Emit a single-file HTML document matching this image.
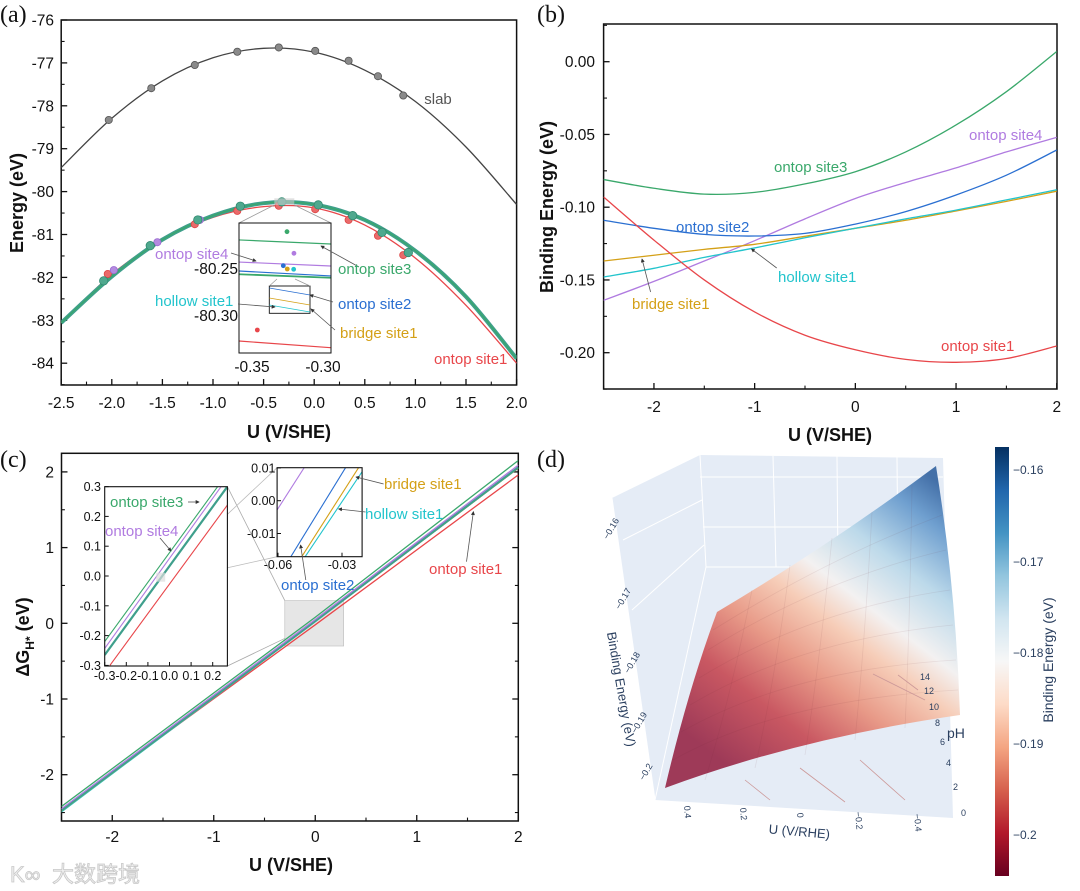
<!DOCTYPE html>
<html><head><meta charset="utf-8"><style>
html,body{margin:0;padding:0;background:#fff}
svg{display:block}
text{font-family:"Liberation Sans","Noto Sans CJK SC",sans-serif}
.tk{font-size:15.5px;fill:#111}
.ttl{font-size:18px;font-weight:bold;fill:#111}
.pl{font-family:"Liberation Serif",serif;font-size:24px;fill:#111}
.lb{font-size:15px}
.it{font-size:12.5px;fill:#111}
.d3{font-size:9px;fill:#2a3f5f}
</style></head><body>
<svg id="fig" width="1080" height="891" viewBox="0 0 1080 891" xmlns="http://www.w3.org/2000/svg">
<defs>
<clipPath id="clipA"><rect x="61.2" y="20" width="455.4" height="365"/></clipPath>
<clipPath id="clipAI"><rect x="239" y="223" width="92" height="130"/></clipPath>
<clipPath id="clipB"><rect x="603.6" y="24" width="453.4" height="365"/></clipPath>
<clipPath id="clipC"><rect x="61.5" y="453.3" width="456.8" height="367.7"/></clipPath>
<clipPath id="clipC1"><rect x="104.7" y="486.7" width="122.7" height="179.3"/></clipPath>
<clipPath id="clipC2"><rect x="277.1" y="467.7" width="85" height="89"/></clipPath>
<linearGradient id="surfGrad" gradientUnits="userSpaceOnUse" x1="720" y1="760" x2="935" y2="480">
<stop offset="0" stop-color="#9e3a58"/><stop offset="0.2" stop-color="#c95862"/><stop offset="0.36" stop-color="#e89a88"/><stop offset="0.5" stop-color="#f6cdb8"/><stop offset="0.6" stop-color="#f3f1f1"/><stop offset="0.75" stop-color="#bcd9ea"/><stop offset="0.9" stop-color="#6f9fcf"/><stop offset="1" stop-color="#4470a8"/>
</linearGradient>
<linearGradient id="cbGrad" x1="0" y1="1" x2="0" y2="0">
<stop offset="0" stop-color="#67001f"/><stop offset="0.1" stop-color="#b2182b"/><stop offset="0.2" stop-color="#d6604d"/><stop offset="0.3" stop-color="#f4a582"/><stop offset="0.4" stop-color="#fddbc7"/><stop offset="0.5" stop-color="#f7f7f7"/><stop offset="0.6" stop-color="#d1e5f0"/><stop offset="0.7" stop-color="#92c5de"/><stop offset="0.8" stop-color="#4393c3"/><stop offset="0.9" stop-color="#2166ac"/><stop offset="1" stop-color="#053061"/>
</linearGradient>
<marker id="arr" viewBox="0 0 6 6" refX="5" refY="3" markerWidth="5" markerHeight="5" orient="auto"><path d="M0,0 L6,3 L0,6 Z" fill="#333"/></marker>
</defs>
<rect x="0" y="0" width="1080" height="891" fill="#fff"/>

<text class="pl" x="0" y="22">(a)</text>
<text class="pl" x="537" y="22">(b)</text>
<text class="pl" x="0" y="467">(c)</text>
<text class="pl" x="537" y="467">(d)</text>

<g id="gA"></g>
<text class="ttl" x="289" y="438" text-anchor="middle">U (V/SHE)</text>
<text class="ttl" transform="translate(23,203) rotate(-90)" text-anchor="middle">Energy (eV)</text>
<text class="lb" x="438" y="104" text-anchor="middle" fill="#555">slab</text>
<text class="lb" x="155" y="259" fill="#b07be0">ontop site4</text>
<text class="lb" x="338" y="274" fill="#3aa86b">ontop site3</text>
<text class="lb" x="155" y="306" fill="#22c4cc">hollow site1</text>
<text class="lb" x="338" y="309" fill="#2a6fd1">ontop site2</text>
<text class="lb" x="340" y="338" fill="#d4a017">bridge site1</text>
<text class="lb" x="434" y="364" fill="#e8464a">ontop site1</text>
<text class="tk" x="238" y="274" text-anchor="end">-80.25</text>
<text class="tk" x="238" y="321" text-anchor="end">-80.30</text>
<text class="tk" x="252" y="372" text-anchor="middle">-0.35</text>
<text class="tk" x="323" y="372" text-anchor="middle">-0.30</text>

<g id="gB"></g>
<text class="ttl" x="830" y="441" text-anchor="middle">U (V/SHE)</text>
<text class="ttl" transform="translate(553,207) rotate(-90)" text-anchor="middle">Binding Energy (eV)</text>
<text class="lb" x="774" y="172" fill="#3aa86b">ontop site3</text>
<text class="lb" x="969" y="140" fill="#b07be0">ontop site4</text>
<text class="lb" x="676" y="232" fill="#2a6fd1">ontop site2</text>
<text class="lb" x="778" y="282" fill="#22c4cc">hollow site1</text>
<text class="lb" x="632" y="309" fill="#d4a017">bridge site1</text>
<text class="lb" x="941" y="351" fill="#e8464a">ontop site1</text>

<g id="gC"></g>
<text class="ttl" x="291" y="871" text-anchor="middle">U (V/SHE)</text>
<text class="ttl" transform="translate(29,637) rotate(-90)" text-anchor="middle">ΔG<tspan font-size="12" dy="5">H*</tspan><tspan dy="-5"> (eV)</tspan></text>
<text class="lb" x="110" y="507" fill="#3aa86b">ontop site3</text>
<text class="lb" x="105" y="536" fill="#b07be0">ontop site4</text>
<text class="lb" x="384" y="489" fill="#d4a017">bridge site1</text>
<text class="lb" x="365" y="519" fill="#22c4cc">hollow site1</text>
<text class="lb" x="281" y="590" fill="#2a6fd1">ontop site2</text>
<text class="lb" x="429" y="574" fill="#e8464a">ontop site1</text>

<g id="gD">
<polygon points="612,498 700,455 943,458 953,818 655,800" fill="#e5ecf6"/>
<g stroke="#ffffff" stroke-width="1" fill="none">
<line x1="700" y1="455" x2="706" y2="567"/><line x1="773" y1="456" x2="776" y2="567"/><line x1="837" y1="456" x2="838" y2="567"/><line x1="897" y1="457" x2="898" y2="567"/>
<line x1="706" y1="567" x2="945" y2="567"/><line x1="700" y1="477" x2="943" y2="477"/><line x1="703" y1="527" x2="945" y2="527"/>
<line x1="612" y1="498" x2="655" y2="800"/><line x1="655" y1="800" x2="706" y2="567"/><line x1="690" y1="805" x2="745" y2="812"/>
<line x1="623" y1="540" x2="702" y2="500"/><line x1="632" y1="610" x2="704" y2="545"/>
</g>
<path d="M665,788 Q688,690 717,612 Q830,545 936,466 Q956,590 960,715 Q800,738 665,788 Z" fill="url(#surfGrad)"/>
<g stroke="#6a2a3a" stroke-opacity="0.09" stroke-width="0.8" fill="none">
<path d="M673,760 Q780,700 958,690"/><path d="M681,732 Q790,670 956,660"/><path d="M690,705 Q800,640 953,625"/><path d="M699,678 Q810,610 950,590"/><path d="M708,650 Q820,580 946,550"/><path d="M713,630 Q825,560 942,515"/>
<path d="M705,780 Q730,700 752,590"/><path d="M755,768 Q775,680 790,565"/><path d="M805,755 Q820,660 832,538"/><path d="M855,740 Q865,640 872,512"/><path d="M905,728 Q910,620 912,485"/>
</g>
<g stroke="#c99" stroke-width="0.8"><line x1="745" y1="780" x2="770" y2="800"/><line x1="800" y1="768" x2="845" y2="802"/><line x1="860" y1="760" x2="905" y2="800"/><line x1="873" y1="674" x2="925" y2="700"/><line x1="898" y1="675" x2="918" y2="690"/></g>
<text class="d3" transform="translate(608,540) rotate(-60)">−0.16</text>
<text class="d3" transform="translate(620,610) rotate(-60)">−0.17</text>
<text class="d3" transform="translate(629,674) rotate(-60)">−0.18</text>
<text class="d3" transform="translate(636,734) rotate(-60)">−0.19</text>
<text class="d3" transform="translate(644,781) rotate(-60)">−0.2</text>
<text transform="translate(617,690) rotate(80)" text-anchor="middle" font-size="13" fill="#2a3f5f">Binding Energy (eV)</text>
<text class="d3" transform="translate(684,806) rotate(85)">0.4</text>
<text class="d3" transform="translate(740,808) rotate(85)">0.2</text>
<text class="d3" transform="translate(797,813) rotate(85)">0</text>
<text class="d3" transform="translate(855,812) rotate(85)">−0.2</text>
<text class="d3" transform="translate(914,814) rotate(85)">−0.4</text>
<text transform="translate(799,836) rotate(5)" text-anchor="middle" font-size="13" fill="#2a3f5f">U (V/RHE)</text>
<g class="d3" font-size="8.5">
<text x="961" y="816">0</text><text x="953" y="790">2</text><text x="946" y="766">4</text><text x="940" y="745">6</text><text x="935" y="726">8</text><text x="929" y="710">10</text><text x="924" y="694">12</text><text x="920" y="680">14</text></g>
<text x="947" y="738" font-size="14" fill="#2a3f5f">pH</text>
<rect x="995" y="447" width="14" height="429" fill="url(#cbGrad)"/>
<g font-size="12" fill="#2a3f5f">
<text x="1013" y="474">−0.16</text><text x="1013" y="566">−0.17</text><text x="1013" y="657">−0.18</text><text x="1013" y="748">−0.19</text><text x="1013" y="839">−0.2</text></g>
<text transform="translate(1053,660) rotate(-90)" text-anchor="middle" font-size="14" fill="#2a3f5f">Binding Energy (eV)</text>
</g>

<g>
<text x="10" y="882" font-size="22" fill="#f0f0f0" stroke="#c8c8c8" stroke-width="0.8">K∞</text>
<text x="52" y="882" font-size="22" font-family="'Noto Sans CJK SC',sans-serif" fill="#f0f0f0" stroke="#c8c8c8" stroke-width="0.8">大数跨境</text>
</g>
</svg>
<script>
const aU = [-2.5,-2,-1.5,-1,-0.5,0,0.5,1,1.5,2];
const aSlab = [-79.44,-78.29,-77.42,-76.88,-76.66,-76.75,-77.17,-77.9,-78.96,-80.3];
const aAds = [-83.06,-81.98,-81.12,-80.56,-80.27,-80.3,-80.66,-81.38,-82.45,-83.89];
const aSite1 = [-83.06,-81.93,-81.12,-80.6,-80.35,-80.38,-80.78,-81.55,-82.65,-84.0];
const aSlabDotU = [-2.03,-1.61,-1.18,-0.76,-0.35,0.01,0.34,0.63,0.88];
const aSlabDotE = [-78.33,-77.59,-77.05,-76.74,-76.64,-76.72,-76.95,-77.31,-77.76];
const aAdsDotU = [-2.08,-1.62,-1.15,-0.73,-0.32,0.04,0.38,0.67,0.93];
const aAdsDotE = [-82.08,-81.26,-80.66,-80.34,-80.24,-80.31,-80.56,-80.95,-81.42];
const aS1DotU = [-2.04,-1.18,-0.76,-0.35,0.01,0.34,0.63,0.88];
const aS1DotE = [-81.92,-80.76,-80.45,-80.33,-80.41,-80.66,-81.03,-81.48];
const aS4DotU = [-1.98,-1.55,-1.13];
const aS4DotE = [-81.83,-81.18,-80.66];
const aYTicks = [-76,-77,-78,-79,-80,-81,-82,-83,-84];
const aXTicks = [-2.5,-2.0,-1.5,-1.0,-0.5,0.0,0.5,1.0,1.5,2.0];
const aiU = [-0.359,-0.2944];
const aiSite3 = [-80.2191,-80.2234];
const aiSite4 = [-80.2426,-80.2468];
const aiSite2 = [-80.2521,-80.2574];
const aiAds = [-80.2556,-80.2593];
const aiSite1 = [-80.3266,-80.3337];
const aiDotU = [-0.3252,-0.3203,-0.3278,-0.325,-0.3205,-0.3461];
const aiDotE = [-80.2103,-80.2333,-80.2465,-80.25,-80.2503,-80.3149];
const aiDotColor = ['#3aa86b','#b07be0','#2a6fd1','#d4a017','#22c4cc','#e8464a'];

const bU = [-2.5,-2,-1.5,-1,-0.5,0,0.5,1,1.5,2];
const bSite3 = [-0.081,-0.087,-0.091,-0.0898,-0.084,-0.0756,-0.062,-0.0435,-0.0206,0.007];
const bSite4 = [-0.164,-0.151,-0.137,-0.123,-0.108,-0.094,-0.083,-0.073,-0.062,-0.052];
const bSite2 = [-0.109,-0.1145,-0.1187,-0.1198,-0.118,-0.1116,-0.103,-0.0916,-0.078,-0.0607];
const bHollow = [-0.148,-0.142,-0.1345,-0.128,-0.121,-0.1145,-0.108,-0.102,-0.095,-0.088];
const bBridge = [-0.137,-0.133,-0.129,-0.1255,-0.120,-0.1145,-0.109,-0.1026,-0.096,-0.089];
const bSite1 = [-0.093,-0.1226,-0.150,-0.172,-0.188,-0.198,-0.2046,-0.2066,-0.204,-0.1954];
const bYTicks = [0,-0.05,-0.10,-0.15,-0.20];
const bYLabels = ['0.00','-0.05','-0.10','-0.15','-0.20'];
const bXTicks = [-2,-1,0,1,2];

const cU = [-2.5,0,2];
const cSite3 = [-2.42,0.08,2.15];
const cSite4 = [-2.45,0.05,2.09];
const cSite2 = [-2.47,0.03,2.06];
const cBridge = [-2.48,0.025,2.05];
const cHollow = [-2.49,0.02,2.05];
const cSite1 = [-2.46,-0.02,1.96];
const cYTicks = [2,1,0,-1,-2];
const cXTicks = [-2,-1,0,1,2];
const c1U = [-0.3,0.268];
const c1Site3 = [-0.22,0.3];
const c1Site4 = [-0.243,0.3];
const c1Teal = [-0.265,0.3];
const c1Site1 = [-0.3,0.238];
const c1Site3U = [-0.3,0.223];
const c1Site4U = [-0.3,0.239];
const c1TealU = [-0.3,0.268];
const c1Site1U = [-0.276,0.268];
const c1YTicks = [0.3,0.2,0.1,0.0,-0.1,-0.2,-0.3];
const c1YLabels = ['0.3','0.2','0.1','0.0','-0.1','-0.2','-0.3'];
const c1XTicks = [-0.3,-0.2,-0.1,0.0,0.1,0.2];
const c1XLabels = ['-0.3','-0.2','-0.1','0.0','0.1','0.2'];
const c2Site4U = [-0.0604,-0.0477];
const c2Site4V = [-0.0028,0.0101];
const c2Site2U = [-0.054,-0.0283];
const c2BridgeU = [-0.0489,-0.0222];
const c2HollowU = [-0.0473,-0.0206];
const c2V = [-0.0171,0.0101];
const c2HollowV = [-0.0171,0.0088];
const c2YTicks = [0.01,0.00,-0.01];
const c2YLabels = ['0.01','0.00','-0.01'];
const c2XTicks = [-0.06,-0.03];
const c2XLabels = ['-0.06','-0.03'];

const NS = 'http://www.w3.org/2000/svg';
function mk(tag, parent){ const e=document.createElementNS(NS,tag); parent.appendChild(e); return e; }
function smooth(pts){
  let d='M'+pts[0][0]+','+pts[0][1];
  for(let i=0;i<pts.length-1;i++){
    const p0=pts[i-1]||pts[i], p1=pts[i], p2=pts[i+1], p3=pts[i+2]||pts[i+1];
    const c1=[p1[0]+(p2[0]-p0[0])/6, p1[1]+(p2[1]-p0[1])/6];
    const c2=[p2[0]-(p3[0]-p1[0])/6, p2[1]-(p3[1]-p1[1])/6];
    d+=' C'+c1[0]+','+c1[1]+' '+c2[0]+','+c2[1]+' '+p2[0]+','+p2[1];
  }
  return d;
}
function curve(parent, us, vs, sx, sy, color, w, clip, name, isSmooth){
  const pts = us.map((u,i)=>[sx(u), sy(vs[i])]);
  const p = mk('path', parent);
  p.setAttribute('d', isSmooth ? smooth(pts) : 'M'+pts.map(q=>q.join(',')).join(' L'));
  p.setAttribute('fill','none');
  p.setAttribute('stroke',color);
  p.setAttribute('stroke-width',w);
  if(clip) p.setAttribute('clip-path','url(#'+clip+')');
  
  
  return p;
}
function line(parent,x1,y1,x2,y2,color,w,arrow){
  const l=mk('line',parent);
  l.setAttribute('x1',x1);l.setAttribute('y1',y1);l.setAttribute('x2',x2);l.setAttribute('y2',y2);
  l.setAttribute('stroke',color);l.setAttribute('stroke-width',w);
  if(arrow) l.setAttribute('marker-end','url(#arr)');
  return l;
}
function txt(parent,x,y,s,cls,anchor){
  const t=mk('text',parent); t.setAttribute('x',x); t.setAttribute('y',y);
  t.setAttribute('class',cls); if(anchor) t.setAttribute('text-anchor',anchor);
  t.textContent=s; return t;
}
function frame(parent,x,y,w,h,sw,name){
  const r=mk('rect',parent);
  r.setAttribute('x',x);r.setAttribute('y',y);r.setAttribute('width',w);r.setAttribute('height',h);
  r.setAttribute('fill','none');r.setAttribute('stroke','#111');r.setAttribute('stroke-width',sw);
  
  
  return r;
}

const gA = document.getElementById('gA');
const xa = u => 61.2 + (u + 2.5) * 101.2;
const ya = e => 20 + (-76 - e) * 42.9;
frame(gA, 61.2, 20, 455.4, 365, 1.5, 'panel-a-frame');
for (const v of aYTicks) {
  const l = line(gA, 61.2, ya(v), 67.2, ya(v), '#111', 1.3);
  
  
  const m = line(gA, 61.2, ya(v - 0.5), 64.6, ya(v - 0.5), '#111', 1.1);
  
  
  const t = txt(gA, 54, ya(v) + 5.5, String(v), 'tk', 'end');
  
  
}
for (const v of aXTicks) {
  const l = line(gA, xa(v), 385, xa(v), 379, '#111', 1.3);
  
  
  if (v < 2) { const m = line(gA, xa(v + 0.25), 385, xa(v + 0.25), 381.6, '#111', 1.1);
    
     }
  const t = txt(gA, xa(v), 408, v.toFixed(1), 'tk', 'middle');
  
  
}
curve(gA, aU, aSlab, xa, ya, '#444', 1.3, 'clipA', 'slab-curve', true);
curve(gA, aU, aSite1, xa, ya, '#e8464a', 1.3, 'clipA', 'ontop-site1-curve', true);
curve(gA, aU, aAds, xa, ya, '#3f9f8c', 4, 'clipA', 'adsorbed-sites-curve', true);
curve(gA, aU, aAds, xa, ya, '#3aa86b', 1.2, 'clipA', 'ontop-site3-curve', true);
function dots(parent, us, es, sx, sy, fill, stroke, r, name){
  us.forEach((u,i)=>{
    const c = mk('circle', parent);
    c.setAttribute('cx', sx(u)); c.setAttribute('cy', sy(es[i])); c.setAttribute('r', r);
    c.setAttribute('fill', fill); c.setAttribute('stroke', stroke); c.setAttribute('stroke-width', 0.8);
    
    
  });
}
dots(gA, aSlabDotU, aSlabDotE, xa, ya, '#8a8a8a', '#555', 3.6, 'slab-point');
dots(gA, aS1DotU, aS1DotE, xa, ya, '#ea6a6a', '#d44', 3.6, 'ontop-site1-point');
dots(gA, aS4DotU, aS4DotE, xa, ya, '#b48ae0', '#9a6ad0', 3.6, 'ontop-site4-point');
dots(gA, aAdsDotU, aAdsDotE, xa, ya, '#4fa88e', '#2f8a70', 4.2, 'adsorbed-point');
const zr = mk('rect', gA);
zr.setAttribute('x', 274.3); zr.setAttribute('y', 198.3); zr.setAttribute('width', 20); zr.setAttribute('height', 6.7);
zr.setAttribute('fill', '#ccc'); zr.setAttribute('fill-opacity', 0.6);


line(gA, 274.3, 205, 239, 223, '#999', 0.8);
line(gA, 294.3, 205, 331, 223, '#999', 0.8);
const xai = u => 239 + (u - aiU[0]) * 1420;
const yai = e => 269 + (-80.25 - e) * 940;
const bgI = mk('rect', gA);
bgI.setAttribute('x',239);bgI.setAttribute('y',223);bgI.setAttribute('width',92);bgI.setAttribute('height',130);bgI.setAttribute('fill','#fff');


curve(gA, aiU, aiSite3, xai, yai, '#3aa86b', 1.2, 'clipAI', 'inset-a-ontop-site3', false);
curve(gA, aiU, aiSite4, xai, yai, '#b07be0', 1.2, 'clipAI', 'inset-a-ontop-site4', false);
curve(gA, aiU, aiSite2, xai, yai, '#2a6fd1', 1.2, 'clipAI', 'inset-a-ontop-site2', false);
curve(gA, aiU, aiAds, xai, yai, '#3aa86b', 1.8, 'clipAI', 'inset-a-hollow-bridge', false);
curve(gA, aiU, aiSite1, xai, yai, '#e8464a', 1.2, 'clipAI', 'inset-a-ontop-site1', false);
aiDotU.forEach((u,i)=>{
  const c = mk('circle', gA);
  c.setAttribute('cx', xai(u)); c.setAttribute('cy', yai(aiDotE[i])); c.setAttribute('r', 2.4);
  c.setAttribute('fill', aiDotColor[i]);
  
  
});
frame(gA, 239, 223, 92, 130, 1, 'inset-a-frame');
frame(gA, 269.3, 286, 40.7, 27.3, 0.9, 'inset-a-subzoom-frame');
line(gA, 269.3, 286, 277, 279, '#999', 0.7);
line(gA, 310, 286, 295, 279, '#999', 0.7);
line(gA, 269.3, 288, 310, 295, '#2a6fd1', 0.8);
line(gA, 269.3, 298, 310, 305, '#d4a017', 0.8);
line(gA, 269.3, 305, 310, 312, '#22c4cc', 0.8);
line(gA, 231, 253, 256, 261, '#555', 0.8, true);
line(gA, 359, 267, 321, 246, '#555', 0.8, true);
line(gA, 333, 302, 310, 295, '#555', 0.8, true);
line(gA, 238, 304, 275, 307, '#555', 0.8, true);
line(gA, 335, 330, 311, 309, '#555', 0.8, true);

const gB = document.getElementById('gB');
const xb = u => 603.6 + (u + 2.5) * 100.7;
const yb = v => 61.7 - v * 1455;
frame(gB, 603.6, 24, 453.4, 365, 1.5, 'panel-b-frame');
bYTicks.forEach((v,i)=>{
  const l = line(gB, 603.6, yb(v), 609.6, yb(v), '#111', 1.3);
  
  
  const m = line(gB, 603.6, yb(v - 0.025), 607, yb(v - 0.025), '#111', 1.1);
  
  
  const t = txt(gB, 595, yb(v) + 5.5, bYLabels[i], 'tk', 'end');
  
  
});
{ const m = line(gB, 603.6, yb(0.025), 607, yb(0.025), '#111', 1.1);
  
   }
bXTicks.forEach(v=>{
  const l = line(gB, xb(v), 389, xb(v), 383, '#111', 1.3);
  
  
  const m = line(gB, xb(v - 0.5), 389, xb(v - 0.5), 385.6, '#111', 1.1);
  
  
  const t = txt(gB, xb(v), 412, String(v), 'tk', 'middle');
  
  
});
curve(gB, bU, bSite3, xb, yb, '#3aa86b', 1.3, 'clipB', 'ontop-site3-curve', true);
curve(gB, bU, bSite4, xb, yb, '#b07be0', 1.3, 'clipB', 'ontop-site4-curve', true);
curve(gB, bU, bSite2, xb, yb, '#2a6fd1', 1.3, 'clipB', 'ontop-site2-curve', true);
curve(gB, bU, bBridge, xb, yb, '#d4a017', 1.3, 'clipB', 'bridge-site1-curve', true);
curve(gB, bU, bHollow, xb, yb, '#22c4cc', 1.3, 'clipB', 'hollow-site1-curve', true);
curve(gB, bU, bSite1, xb, yb, '#e8464a', 1.3, 'clipB', 'ontop-site1-curve', true);
line(gB, 650.6, 292, 642, 259, '#555', 0.8, true);
line(gB, 776.7, 268, 751.5, 249, '#555', 0.8, true);

const gC = document.getElementById('gC');
const xc = u => 61.5 + (u + 2.5) * 101.5;
const yc = v => 623.3 - v * 75.7;
frame(gC, 61.5, 453.3, 456.8, 367.7, 1.5, 'panel-c-frame');
cYTicks.forEach(v=>{
  const l = line(gC, 61.5, yc(v), 67.5, yc(v), '#111', 1.3);
  
  
  const r = line(gC, 518.3, yc(v), 512.3, yc(v), '#111', 1.3);
  
  
  const m = line(gC, 61.5, yc(v - 0.5), 64.9, yc(v - 0.5), '#111', 1.1);
  
  
  const m2 = line(gC, 518.3, yc(v - 0.5), 514.9, yc(v - 0.5), '#111', 1.1);
  
  
  const t = txt(gC, 54, yc(v) + 5.5, String(v), 'tk', 'end');
  
  
});
cXTicks.forEach(v=>{
  const l = line(gC, xc(v), 821, xc(v), 815, '#111', 1.3);
  
  
  const m = line(gC, xc(v - 0.5), 821, xc(v - 0.5), 817.6, '#111', 1.1);
  
  
  const t = txt(gC, xc(v), 842, String(v), 'tk', 'middle');
  
  
});
const gr = mk('rect', gC);
gr.setAttribute('x', xc(-0.3)); gr.setAttribute('y', yc(0.3)); gr.setAttribute('width', xc(0.28) - xc(-0.3)); gr.setAttribute('height', yc(-0.3) - yc(0.3));
gr.setAttribute('fill', '#e6e6e6'); gr.setAttribute('stroke', '#bbb'); gr.setAttribute('stroke-width', 0.6);


curve(gC, cU, cSite1, xc, yc, '#e8464a', 1.3, 'clipC', 'ontop-site1-line', false);
curve(gC, cU, cHollow, xc, yc, '#22c4cc', 1.3, 'clipC', 'hollow-site1-line', false);
curve(gC, cU, cBridge, xc, yc, '#d4a017', 1.3, 'clipC', 'bridge-site1-line', false);
curve(gC, cU, cSite2, xc, yc, '#2a6fd1', 1.3, 'clipC', 'ontop-site2-line', false);
curve(gC, cU, cSite2, xc, yc, '#3f9f8c', 2.2, 'clipC', 'overlap-line', false);
curve(gC, cU, cSite4, xc, yc, '#b07be0', 1.3, 'clipC', 'ontop-site4-line', false);
curve(gC, cU, cSite3, xc, yc, '#3aa86b', 1.3, 'clipC', 'ontop-site3-line', false);
line(gC, 227.4, 486.7, xc(-0.3), yc(0.3), '#aaa', 0.8);
line(gC, 227.4, 666, xc(-0.3), yc(-0.2), '#aaa', 0.8);
line(gC, 165.2, 572.7, 277.1, 467.7, '#bbb', 0.8);
line(gC, 165.2, 581.7, 277.1, 556.7, '#bbb', 0.8);
const xc1 = u => 104.7 + (u + 0.3) * 216;
const yc1 = v => 576 - v * 298;
const b1 = mk('rect', gC);
b1.setAttribute('x',104.7);b1.setAttribute('y',486.7);b1.setAttribute('width',122.7);b1.setAttribute('height',179.3);b1.setAttribute('fill','#fff');


curve(gC, c1Site1U, c1Site1, xc1, yc1, '#e8464a', 1.1, 'clipC1', 'inset-c1-ontop-site1', false);
curve(gC, c1TealU, c1Teal, xc1, yc1, '#3f9f8c', 2.2, 'clipC1', 'inset-c1-overlap', false);
curve(gC, c1Site4U, c1Site4, xc1, yc1, '#b07be0', 1.1, 'clipC1', 'inset-c1-ontop-site4', false);
curve(gC, c1Site3U, c1Site3, xc1, yc1, '#3aa86b', 1.1, 'clipC1', 'inset-c1-ontop-site3', false);
const sr = mk('rect', gC);
sr.setAttribute('x',156.2);sr.setAttribute('y',572.7);sr.setAttribute('width',9);sr.setAttribute('height',9);sr.setAttribute('fill','#ddd');sr.setAttribute('fill-opacity',0.7);


frame(gC, 104.7, 486.7, 122.7, 179.3, 1.1, 'inset-c1-frame');
c1YTicks.forEach((v,i)=>{
  const l = line(gC, 104.7, yc1(v), 108.7, yc1(v), '#111', 1);
  
  
  const t = txt(gC, 101, yc1(v) + 4.5, c1YLabels[i], 'it', 'end');
  
  
});
c1XTicks.forEach((v,i)=>{
  const l = line(gC, xc1(v), 666, xc1(v), 662, '#111', 1);
  
  
  const t = txt(gC, xc1(v), 680, c1XLabels[i], 'it', 'middle');
  
  
});
line(gC, 188, 502, 199, 502, '#555', 0.8, true);
line(gC, 160, 538, 171, 551, '#555', 0.8, true);
const xc2 = u => 278 + (u + 0.06) * 2133;
const yc2 = v => 500.7 - v * 3280;
const b2 = mk('rect', gC);
b2.setAttribute('x',277.1);b2.setAttribute('y',467.7);b2.setAttribute('width',85);b2.setAttribute('height',89);b2.setAttribute('fill','#fff');


curve(gC, c2Site4U, c2Site4V, xc2, yc2, '#b07be0', 1.1, 'clipC2', 'inset-c2-ontop-site4', false);
curve(gC, c2Site2U, c2V, xc2, yc2, '#2a6fd1', 1.1, 'clipC2', 'inset-c2-ontop-site2', false);
curve(gC, c2BridgeU, c2V, xc2, yc2, '#d4a017', 1.1, 'clipC2', 'inset-c2-bridge-site1', false);
curve(gC, c2HollowU, c2HollowV, xc2, yc2, '#22c4cc', 1.1, 'clipC2', 'inset-c2-hollow-site1', false);
frame(gC, 277.1, 467.7, 85, 89, 1.1, 'inset-c2-frame');
c2YTicks.forEach((v,i)=>{
  const l = line(gC, 277.1, yc2(v), 281, yc2(v), '#111', 1);
  
  
  const t = txt(gC, 275.5, yc2(v) + 4.5, c2YLabels[i], 'it', 'end');
  
  
});
c2XTicks.forEach((v,i)=>{
  const l = line(gC, xc2(v), 556.7, xc2(v), 552.7, '#111', 1);
  
  
  const t = txt(gC, xc2(v), 569, c2XLabels[i], 'it', 'middle');
  
  
});
line(gC, 383.6, 484, 356, 477, '#555', 0.8, true);
line(gC, 365.6, 512, 338.6, 509, '#555', 0.8, true);
line(gC, 305.8, 580, 300.6, 545, '#555', 0.8, true);
line(gC, 466.5, 561.7, 473.4, 511.7, '#555', 0.8, true);
</script>
</body></html>
